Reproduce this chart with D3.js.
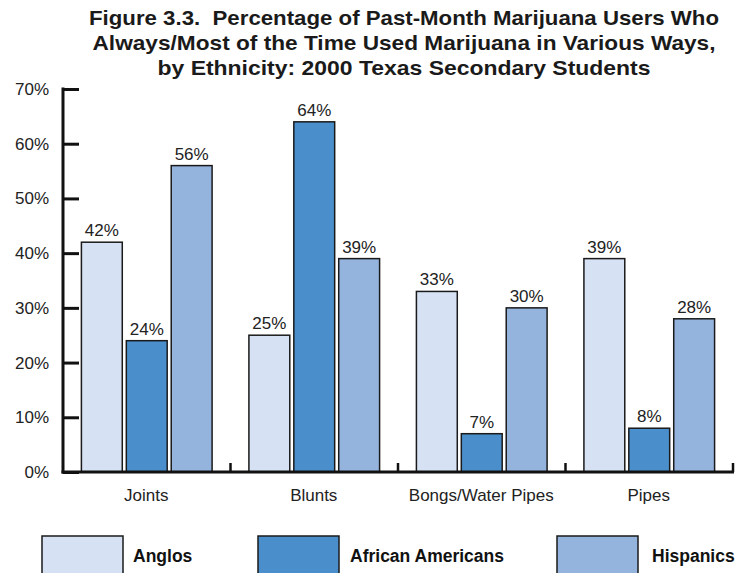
<!DOCTYPE html>
<html>
<head>
<meta charset="utf-8">
<script src="https://cdn.jsdelivr.net/npm/d3@7"></script>
<style>
  html, body { margin: 0; padding: 0; background: #fff; }
  svg { display: block; }
  .title { white-space: pre; }
</style>
</head>
<body>
<svg id="chart" width="741" height="573"></svg>
<script>
// Survey results: share of past-month users who always/mostly used each method
const categories = ["Joints", "Blunts", "Bongs/Water Pipes", "Pipes"];
const groups = ["Anglos", "African Americans", "Hispanics"];
const anglos = [42, 25, 33, 39];
const africanAmericans = [24, 64, 7, 8];
const hispanics = [56, 39, 30, 28];
const yTicks = [0, 10, 20, 30, 40, 50, 60, 70];
const titleLines = [
  "Figure 3.3.  Percentage of Past-Month Marijuana Users Who",
  "Always/Most of the Time Used Marijuana in Various Ways,",
  "by Ethnicity: 2000 Texas Secondary Students"
];
const titleWidths = [630, 623, 493];
const colors = ["#d6e2f3", "#4a8fcc", "#94b4de"];

const seriesValues = [anglos, africanAmericans, hispanics];
const rows = categories.map((c, i) => ({
  category: c,
  values: groups.map((g, j) => ({ group: g, value: seriesValues[j][i] }))
}));

const svg = d3.select("#chart");
const font = "'Liberation Sans', Arial, Helvetica, sans-serif";

const plotLeft = 63, plotRight = 733, plotTop = 89, plotBottom = 472;

const x0 = d3.scaleBand().domain(categories).range([plotLeft, plotRight]).paddingInner(0).paddingOuter(0);
const x1 = d3.scaleBand().domain(groups).range([0, x0.bandwidth()]).paddingInner(0.09).paddingOuter(0.41);
const y = d3.scaleLinear().domain([0, 70]).range([plotBottom, plotTop]);

// Title
svg.append("g").selectAll("text").data(titleLines).join("text")
  .attr("class", "title")
  .attr("x", 404).attr("y", (d, i) => 25 + i * 25)
  .attr("text-anchor", "middle")
  .attr("textLength", (d, i) => titleWidths[i])
  .attr("lengthAdjust", "spacingAndGlyphs")
  .attr("font-family", font).attr("font-weight", "bold").attr("font-size", 21)
  .attr("fill", "#1a1a1a")
  .text(d => d);

// Bars
const grp = svg.append("g").selectAll("g").data(rows).join("g")
  .attr("transform", d => `translate(${x0(d.category)},0)`);

grp.selectAll("rect").data(d => d.values).join("rect")
  .attr("x", d => x1(d.group))
  .attr("y", d => y(d.value))
  .attr("width", x1.bandwidth())
  .attr("height", d => y(0) - y(d.value))
  .attr("fill", (d, i) => colors[i])
  .attr("stroke", "#1a1a1a").attr("stroke-width", 1.5);

grp.selectAll("text").data(d => d.values).join("text")
  .attr("x", d => x1(d.group) + x1.bandwidth() / 2)
  .attr("y", d => y(d.value) - 6)
  .attr("text-anchor", "middle")
  .attr("font-family", font).attr("font-size", 17).attr("fill", "#222")
  .text(d => d.value + "%");

// Y axis: ticks pointing inward
const yAxis = d3.axisRight(y).tickValues(yTicks).tickSize(16).tickFormat("");
const ya = svg.append("g").attr("transform", `translate(${plotLeft},0)`).call(yAxis);
ya.select(".domain").remove();
ya.selectAll(".tick line").attr("stroke", "#111").attr("stroke-width", 3);
svg.append("line").attr("x1", plotLeft).attr("x2", plotLeft).attr("y1", plotTop - 1.5).attr("y2", plotBottom + 1.5)
  .attr("stroke", "#111").attr("stroke-width", 3);

svg.append("g").selectAll("text").data(yTicks).join("text")
  .attr("x", 49).attr("y", d => y(d) + 6)
  .attr("text-anchor", "end")
  .attr("font-family", font).attr("font-size", 17).attr("fill", "#222")
  .text(d => d + "%");

// X axis with upward separator ticks between categories
svg.append("line").attr("x1", plotLeft - 1.5).attr("x2", plotRight + 1).attr("y1", plotBottom).attr("y2", plotBottom)
  .attr("stroke", "#111").attr("stroke-width", 3);
svg.append("g").selectAll("line").data(categories).join("line")
  .attr("x1", d => x0(d) + x0.bandwidth()).attr("x2", d => x0(d) + x0.bandwidth())
  .attr("y1", plotBottom).attr("y2", plotBottom - 9)
  .attr("stroke", "#111").attr("stroke-width", 2.5);

svg.append("g").selectAll("text").data(categories).join("text")
  .attr("x", d => x0(d) + x0.bandwidth() / 2 - 0.5)
  .attr("y", plotBottom + 29)
  .attr("text-anchor", "middle")
  .attr("font-family", font).attr("font-size", 17).attr("fill", "#222")
  .text(d => d);

// Legend
const legendX = [42, 258, 557];
const lg = svg.append("g").selectAll("g").data(groups).join("g")
  .attr("transform", (d, i) => `translate(${legendX[i]},536)`);
lg.append("rect").attr("width", 81).attr("height", 45)
  .attr("fill", (d, i) => colors[i]).attr("stroke", "#1a1a1a").attr("stroke-width", 1.5);
lg.append("text").attr("x", (d, i) => [91, 92, 95][i]).attr("y", 26)
  .attr("font-family", font).attr("font-weight", "bold").attr("font-size", 17.5)
  .attr("fill", "#111")
  .text(d => d);
</script>
</body>
</html>
